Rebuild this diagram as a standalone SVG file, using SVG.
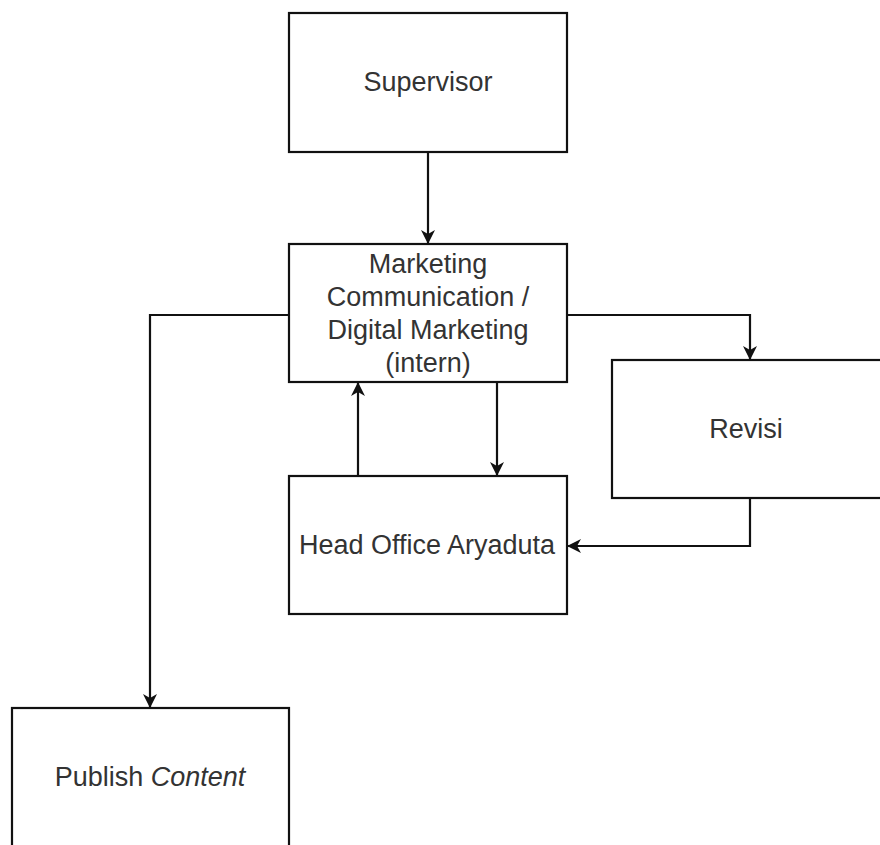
<svg xmlns="http://www.w3.org/2000/svg" width="880" height="845" viewBox="0 0 880 845">
<style>
.box{fill:#fff;stroke:#111;stroke-width:2.2}
.lbl{font-family:"Liberation Sans",Arial,sans-serif;font-size:27px;fill:#333;text-anchor:middle}
.edge{fill:none;stroke:#111;stroke-width:2.2}
</style>
<defs>
<marker id="arr" markerUnits="userSpaceOnUse" markerWidth="16" markerHeight="14" refX="13" refY="7" orient="auto">
<path d="M0,0 L14,7 L0,14 L4,7 z" fill="#111"/>
</marker>
</defs>
<rect width="880" height="845" fill="#fff"/>
<g id="supervisor">
<rect class="box" x="289" y="13" width="278" height="139"/>
<text class="lbl" x="428" y="91">Supervisor</text>
</g>
<g id="marketing">
<rect class="box" x="289" y="244" width="278" height="138"/>
<text class="lbl" x="428" y="273">Marketing</text>
<text class="lbl" x="428" y="306">Communication /</text>
<text class="lbl" x="428" y="339">Digital Marketing</text>
<text class="lbl" x="428" y="372">(intern)</text>
</g>
<g id="revisi">
<rect class="box" x="612" y="360" width="280" height="138"/>
<text class="lbl" x="746" y="438">Revisi</text>
</g>
<g id="headoffice">
<rect class="box" x="289" y="476" width="278" height="138"/>
<text class="lbl" x="427" y="554">Head Office Aryaduta</text>
</g>
<g id="publish">
<rect class="box" x="12" y="708" width="277" height="150"/>
<text class="lbl" x="150" y="786">Publish <tspan font-style="italic">Content</tspan></text>
</g>
<g id="connectors">
<path class="edge" d="M428,152 V243" marker-end="url(#arr)"/>
<path class="edge" d="M567,315 H750 V359" marker-end="url(#arr)"/>
<path class="edge" d="M289,315 H150 V707" marker-end="url(#arr)"/>
<path class="edge" d="M497,382 V475" marker-end="url(#arr)"/>
<path class="edge" d="M358,476 V383" marker-end="url(#arr)"/>
<path class="edge" d="M750,498 V546 H568" marker-end="url(#arr)"/>
</g>
</svg>
